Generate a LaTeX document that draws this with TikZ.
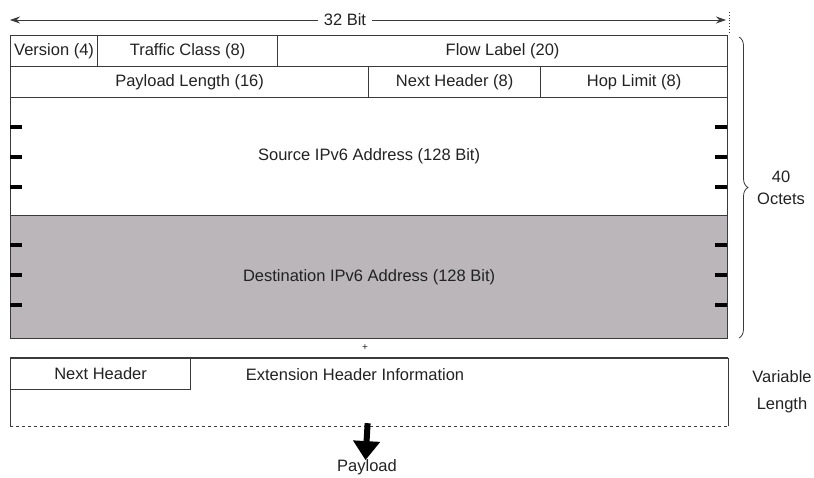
\documentclass[tikz,border=0pt]{standalone}
\usepackage{fontspec}
\setmainfont{Liberation Sans}
\usetikzlibrary{arrows.meta,positioning,calc,decorations.pathreplacing}
\usepackage{xcolor}
\definecolor{rule}{HTML}{3A3A3A}
\definecolor{shade}{HTML}{BAB6BA}
\definecolor{ink}{HTML}{222222}
\newcommand{\lbl}{\fontsize{16.5}{19}\selectfont}
\tikzset{
  field/.style={draw=rule,line width=1.2pt,anchor=north west,inner sep=0pt,minimum height=31pt,font=\lbl,text=ink},
  block/.style={field,minimum width=717pt},
  tick/.style={line width=3.5pt,draw=black},
  plain/.style={font=\lbl,text=ink,inner sep=1pt},
  bigarr/.style={-{Triangle[width=26pt,length=19pt]},line width=6pt,draw=black}
}

\begin{document}
\begin{tikzpicture}[x=1pt,y=-1pt]
        \useasboundingbox (0,0) rectangle (814,478);
        % width arrow
        \coordinate (bitL) at (10,20);
        \coordinate (bitR) at (726,20);
        \node[plain,fill=white,inner xsep=6pt] (bits) at (345,20) {32 Bit};
        \draw[-{Stealth[length=10pt,width=7pt]},thick,draw=rule] (bits) -- (bitR);
        \draw[-{Stealth[length=10pt,width=7pt]},thick,draw=rule] (bits) -- (bitL);
        \draw[dotted,thick,draw=rule] (729,12) -- (729,32);
        % fixed header
        \node[field,minimum width=87pt] (ver) at (10,35) {Version (4)};
        \node[field,minimum width=180pt] (tc) at (97,35) {Traffic Class (8)};
        \node[field,minimum width=450pt] (fl) at (277,35) {Flow Label (20)};
        \node[field,minimum width=358pt] (plen) at (10,66) {Payload Length (16)};
        \node[field,minimum width=172pt] (nxt) at (368,66) {Next Header (8)};
        \node[field,minimum width=187pt] (hop) at (540,66) {Hop Limit (8)};
        \node[block,minimum height=118pt] (src) at (10,97) {Source IPv6 Address (128 Bit)};
        \node[block,minimum height=123pt,fill=shade] (dst) at (10,215) {Destination IPv6 Address (128 Bit)};
        \foreach \y in {127,157,187,245,275,305}{
          \draw[tick] (10,\y) -- ++(12,0);
          \draw[tick] (727,\y) -- ++(-12,0);
        }
        \draw[decorate,decoration={brace,amplitude=9pt},thick,draw=rule] (739,37) -- (739,338);
        \node[plain,align=center] (octets) at (781,188) {40\\[3pt]Octets};
        % extension header
        \node[plain] (plus) at (365,348) {\fontsize{10}{12}\selectfont +};
        \node[block,draw=none,minimum height=67pt] (ext) at (10,358) {};
        \draw[draw=rule,line width=1.2pt] (ext.north west) -- (ext.north east);
        \draw[draw=rule,thin] (ext.north west) -- (ext.south west);
        \draw[draw=rule,thin] (ext.north east) -- (ext.south east);
        \draw[draw=rule,thick,dashed] (ext.south west) -- (ext.south east);
        \node[field,minimum width=180pt] (enh) at (10,358) {Next Header};
        \node[plain] (info) at (355,375) {Extension Header Information};
        \node[plain,align=center] (varlen) at (782,392) {Variable\\[8pt]Length};
        % payload
        \node[plain] (pay) at (367,467) {Payload};
        \draw[bigarr] ([xshift=-1.5pt,yshift=3pt]ext.south) -- ([xshift=-1.5pt,yshift=-2pt]pay.north);
      \end{tikzpicture}
\end{document}
